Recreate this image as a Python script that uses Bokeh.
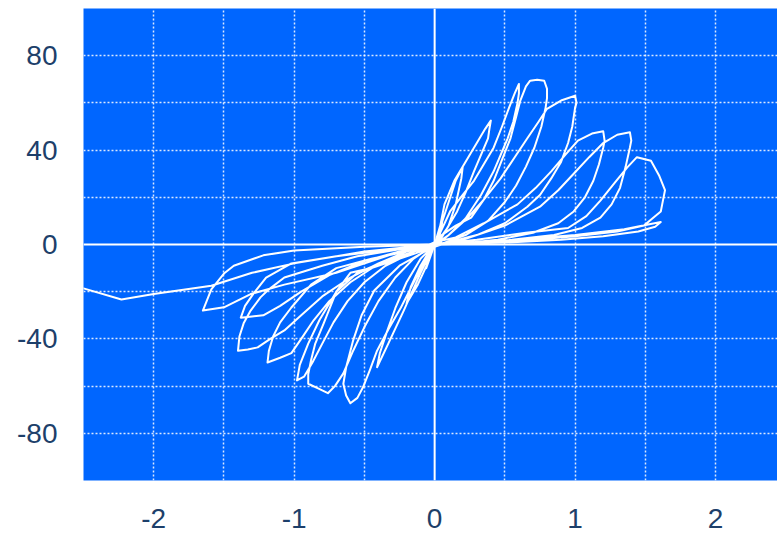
from bokeh.plotting import figure
from bokeh.models import FixedTicker, Span, Range1d
from bokeh.embed import file_html
from bokeh.resources import INLINE

# Hysteresis cycles (displacement, force)
c0_x = [0, 0.03, 0.06, 0.05, 0.02, 0, -0.03, -0.06, -0.05, -0.02, 0]
c0_y = [0, 6, 12, 8, 3, 0, -5, -10, -6, -2, 0]

c1_x = [0.05, 0.1, 0.15, 0.2, 0.19, 0.15, 0.1, 0.05, 0, -0.05, -0.12, -0.2, -0.17, -0.1, -0.04, 0.01]
c1_y = [9, 18, 27, 33, 28, 17, 8, 3, 0, -8, -17, -25, -18, -9, -3, 1]

c2_x = [0.03, 0.07, 0.14, 0.21, 0.3, 0.36, 0.4, 0.39, 0.38, 0.33, 0.28, 0.22, 0.16, 0.09, 0.03, -0.01,
        -0.05, -0.1, -0.22, -0.33, -0.41, -0.39, -0.34, -0.28, -0.2, -0.1, 0.02]
c2_y = [5, 17, 27, 34, 43, 49, 52.5, 49, 45, 38, 31, 22, 14, 7, 2, -1,
        -6, -12, -28, -42, -52, -46, -37, -27, -16, -6, 1]

c3_x = [0.04, 0.11, 0.2, 0.28, 0.35, 0.42, 0.48, 0.53, 0.57, 0.6, 0.6, 0.59, 0.56, 0.52, 0.47, 0.42,
        0.33, 0.22, 0.1, 0.02,
        -0.1, -0.25, -0.43, -0.52, -0.58, -0.63, -0.65, -0.63, -0.6, -0.55, -0.51, -0.46, -0.41,
        -0.33, -0.24, -0.14, -0.06, 0.01]
c3_y = [5, 14, 21, 27, 34, 41, 50, 58, 64, 68, 64, 60, 52, 45, 38, 31, 21, 11, 4, 0,
        -4, -9, -19.5, -30, -40.6, -52, -59, -64, -67.3, -65, -60.5, -53, -45, -36, -26.7, -15, -6, 0]

c4_x = [0.05, 0.15, 0.26, 0.35, 0.42, 0.48, 0.54, 0.58, 0.61, 0.65, 0.68, 0.73, 0.78, 0.8, 0.8,
        0.79, 0.76, 0.71, 0.65, 0.58, 0.5, 0.38, 0.22, 0.08, 0,
        -0.1, -0.3, -0.45, -0.6, -0.7, -0.79, -0.85, -0.88, -0.9, -0.9, -0.83, -0.76, -0.71, -0.65,
        -0.58, -0.5, -0.4, -0.28, -0.15, 0]
c4_y = [4, 8, 11.4, 19, 27, 36, 45, 54, 61, 67, 69.4, 69.8, 69.4, 66, 62,
        58, 50, 41, 33, 25, 18, 10, 4, 1, -1,
        -3, -7, -10, -12, -20, -33.4, -42, -49, -55, -59, -61, -63, -60, -54.6,
        -45, -35, -24, -14, -6, 0]

c5_x = [0.1, 0.23, 0.35, 0.47, 0.57, 0.66, 0.74, 0.8, 0.9, 1.0, 1.01, 1.0, 0.98, 0.95, 0.9, 0.83,
        0.75, 0.66, 0.5, 0.3, 0.1, 0,
        -0.15, -0.35, -0.55, -0.7, -0.82, -0.9, -0.96, -0.98, -0.93, -0.87, -0.8, -0.72, -0.62,
        -0.5, -0.35, -0.18, 0]
c5_y = [4, 11, 19, 28, 37, 45, 52, 57.5, 61, 63, 60, 58, 50, 43, 35, 28, 21, 16, 9, 4, 1, -1,
        -3, -7, -12, -20, -32, -42, -51, -57.6, -56, -50, -42, -33, -24, -16, -9, -4, 1]

c6_x = [0.15, 0.35, 0.59, 0.72, 0.83, 0.93, 1.02, 1.12, 1.2, 1.21, 1.2, 1.17, 1.13, 1.07, 0.99,
        0.88, 0.7, 0.45, 0.2, 0,
        -0.2, -0.45, -0.7, -0.88, -1.02, -1.1, -1.15, -1.18, -1.19, -1.1, -1.02, -0.95, -0.86,
        -0.75, -0.6, -0.42, -0.2, 0]
c6_y = [3, 9, 17, 24, 31, 38, 44, 47, 48, 44, 41, 34, 27, 20, 14, 9, 5, 2, 0.5, 0,
        -3, -6, -10, -17, -26.7, -33, -39, -45, -50, -48, -46, -40, -32, -24, -16, -9, -4, 0]

c7_x = [0.2, 0.5, 0.75, 0.88, 0.99, 1.1, 1.2, 1.3, 1.39, 1.4, 1.39, 1.36, 1.32, 1.26, 1.18, 1.05,
        0.85, 0.55, 0.25, 0,
        -0.25, -0.55, -0.8, -1.07, -1.18, -1.24, -1.31, -1.36, -1.39, -1.4, -1.33, -1.26, -1.17,
        -1.07, -0.95, -0.8, -0.6, -0.4, -0.2, 0]
c7_y = [2, 8, 16, 23, 30, 37, 43, 46.5, 47.6, 44, 41, 33, 24, 17, 11.4, 7, 4, 2, 0.5, 0,
        -2, -5, -9, -14, -19, -22.4, -28, -33.4, -39, -45, -44.5, -43.6, -40, -36.4, -30, -22,
        -14, -8, -3, 0]

c8_x = [0.3, 0.65, 0.95, 1.08, 1.18, 1.28, 1.37, 1.44, 1.54, 1.6, 1.64, 1.62, 1.61, 1.55, 1.49,
        1.3, 1.0, 0.6, 0.25, 0,
        -0.3, -0.7, -1.02, -1.2, -1.29, -1.35, -1.38, -1.3, -1.22, -1.1, -0.95, -0.75, -0.5,
        -0.25, 0]
c8_y = [2, 5, 7, 12, 18.6, 26, 32.6, 37, 35.5, 29, 23, 17, 14, 11, 8, 5.5, 3.5, 1.5, 0.5, 0,
        -2, -5, -8, -14, -20.8, -26, -31, -30.5, -30, -26, -20, -13, -7, -3, 0]

c9_x = [0.3, 0.7, 1.0, 1.35, 1.61, 1.57, 1.45, 1.2, 0.9, 0.5, 0,
        -0.3, -0.7, -1.07, -1.31, -1.5, -1.65, -1.59, -1.5, -1.43, -1.22, -1.0, -0.5, 0]
c9_y = [1, 2.5, 4, 6.5, 9.5, 7.5, 5.5, 3.5, 2, 0.8, 0,
        -4, -12, -17, -21, -26.6, -28, -19, -12.3, -9, -4.6, -2.5, -1, 0]

tail_x = [-0.5, -1.0, -1.3, -1.59, -2.0, -2.23, -2.5, -2.6]
tail_y = [-3, -8, -12, -17.5, -21, -23.3, -18.6, -17]

x_ticks = [-2, -1, 0, 1, 2]
y_ticks = [-80, -40, 0, 40, 80]
x_grid = [-2, -1.5, -1, -0.5, 0.5, 1, 1.5, 2]
y_grid = [-80, -60, -40, -20, 20, 40, 60, 80]

disp = c0_x + c1_x + c2_x + c3_x + c4_x + c5_x + c6_x + c7_x + c8_x + c9_x + tail_x
force = c0_y + c1_y + c2_y + c3_y + c4_y + c5_y + c6_y + c7_y + c8_y + c9_y + tail_y

p = figure(width=777, height=534, output_backend="svg", toolbar_location=None,
           x_range=Range1d(-2.5, 2.441), y_range=Range1d(-100, 100),
           min_border_left=83, min_border_right=0, min_border_top=8, min_border_bottom=54)
p.background_fill_color = "#0066FF"
p.border_fill_color = "white"
p.outline_line_color = None

p.xaxis.ticker = FixedTicker(ticks=x_ticks)
p.yaxis.ticker = FixedTicker(ticks=y_ticks)
p.xaxis.major_label_overrides = {t: str(t) for t in x_ticks}
p.yaxis.major_label_overrides = {t: str(t) for t in y_ticks}
p.xgrid.ticker = FixedTicker(ticks=x_grid)
p.ygrid.ticker = FixedTicker(ticks=y_grid)
for g in (p.xgrid, p.ygrid):
    g.grid_line_color = "white"
    g.grid_line_dash = "2 2"
    g.grid_line_width = 1.5
    g.grid_line_alpha = 0.85

for ax in (p.xaxis, p.yaxis):
    ax.axis_line_color = None
    ax.major_tick_line_color = None
    ax.minor_tick_line_color = None
    ax.major_label_text_font = "Liberation Sans"
    ax.major_label_text_font_size = "28px"
    ax.major_label_text_color = "#1d3f6a"
p.xaxis.major_label_standoff = 22
p.yaxis.major_label_standoff = 20

p.add_layout(Span(location=0, dimension="width", line_color="white", line_width=2))
p.add_layout(Span(location=0, dimension="height", line_color="white", line_width=2))

p.line(disp, force, line_color="white", line_width=2, line_join="round")

open("out.html", "w").write(file_html(p, INLINE))
